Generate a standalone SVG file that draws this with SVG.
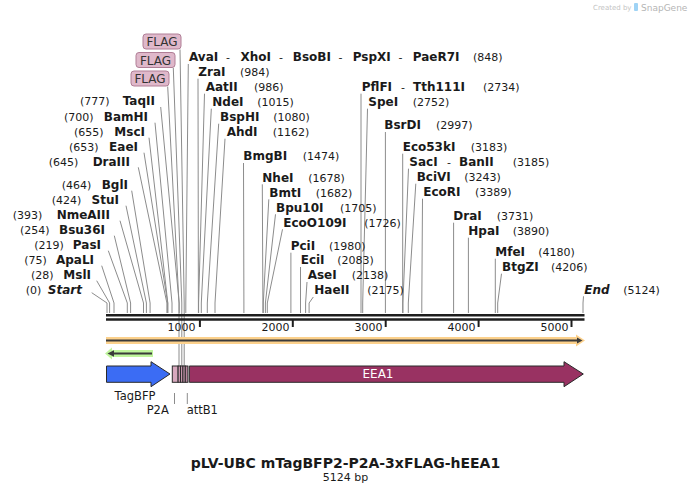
<svg xmlns="http://www.w3.org/2000/svg" width="691" height="493" viewBox="0 0 691 493">
<style>
text{font-family:"DejaVu Sans",Verdana,sans-serif;fill:#1a1a1a}
.n{font-size:12px;font-weight:bold}
.i{font-style:italic}
.p{font-size:11px}
.ld{fill:none;stroke:#8c8c8c;stroke-width:1}
.flag rect{fill:#dfb8ca;stroke:#b07e96;stroke-width:1}
.flag text{font-size:12px;text-anchor:middle;fill:#333}
.tk{font-size:11px;text-anchor:end}
.feat{stroke:#2a2a2a;stroke-width:1}
</style>
<rect width="691" height="493" fill="#fff"/>
<g id="watermark">
<text x="593" y="10" style="font-size:7px;fill:#c4c4c4">Created by</text>
<rect x="634" y="3" width="4" height="8" rx="1" fill="#9fd3f5"/>
<text x="641" y="10.5" style="font-size:9px;fill:#b5b5b5">SnapGene</text>
</g>
<g id="connectors">
<path class="ld" d="M160.7,107 L179.2,303 V313"/>
<path class="ld" d="M155,122.7 L172,303 V313"/>
<path class="ld" d="M149,137.7 L167.8,303 V313"/>
<path class="ld" d="M144,152.7 L167.7,303 V313"/>
<path class="ld" d="M138.3,167.3 L166.9,303 V313"/>
<path class="ld" d="M131.7,190.7 L150.1,303 V313"/>
<path class="ld" d="M126,205.7 L146.4,303 V313"/>
<path class="ld" d="M120,220.7 L143.5,303 V313"/>
<path class="ld" d="M114.3,235.7 L130.6,303 V313"/>
<path class="ld" d="M108.3,250.7 L127.3,303 V313"/>
<path class="ld" d="M101.7,265.7 L114,303 V313"/>
<path class="ld" d="M96.7,280.7 L109.6,303 V313"/>
<path class="ld" d="M91.7,292.7 L107,303 V313"/>
<path class="ld" d="M188.3,64 L185.8,303 V313"/>
<path class="ld" d="M198,78.7 L198.4,303 V313"/>
<path class="ld" d="M204.5,93.7 L198.6,303 V313"/>
<path class="ld" d="M211.3,108.7 L201.3,303 V313"/>
<path class="ld" d="M218.7,123.7 L207.3,303 V313"/>
<path class="ld" d="M225,138.7 L215,303 V313"/>
<path class="ld" d="M243.5,163 L243.9,303 V313"/>
<path class="ld" d="M262.3,184.3 L262.9,303 V313"/>
<path class="ld" d="M268.8,199.3 L263.3,303 V313"/>
<path class="ld" d="M275.5,214.3 L265.4,303 V313"/>
<path class="ld" d="M282.5,229.3 L267.3,303 V313"/>
<path class="ld" d="M290.9,252.7 L290.9,303 V313"/>
<path class="ld" d="M300.5,267 L300.5,303 V313"/>
<path class="ld" d="M307,282 L305.6,303 V313"/>
<path class="ld" d="M313.3,297 L309.1,303 V313"/>
<path class="ld" d="M361,93.7 L361,303 V313"/>
<path class="ld" d="M367.5,108.7 L362.7,303 V313"/>
<path class="ld" d="M385.4,132 L385.4,303 V313"/>
<path class="ld" d="M402.7,153.7 L402.7,303 V313"/>
<path class="ld" d="M408.5,168.7 L402.9,303 V313"/>
<path class="ld" d="M415.8,183.7 L408.3,303 V313"/>
<path class="ld" d="M422.5,198.7 L421.8,303 V313"/>
<path class="ld" d="M453.6,222.7 L453.6,303 V313"/>
<path class="ld" d="M468.4,237.7 L468.4,303 V313"/>
<path class="ld" d="M495.3,258.7 L495.3,303 V313"/>
<path class="ld" d="M501.5,273.7 L497.7,303 V313"/>
<path class="ld" d="M583.5,296.3 L583,303 V313"/>
<path class="ld" d="M180,49.5 L184.2,303 V366"/>
<path class="ld" d="M173.3,68 L181.8,303 V366"/>
<path class="ld" d="M167.7,86.5 L179,303 V366"/>
<path class="ld" d="M174.5,393 V404"/>
<path class="ld" d="M187.3,393 V404"/>
</g>
<g id="axis">
<line x1="106" y1="315.3" x2="584.5" y2="315.3" stroke="#1e1e1e" stroke-width="2.6"/>
<line x1="106" y1="319.5" x2="584.5" y2="319.5" stroke="#1e1e1e" stroke-width="2.4"/>
<path d="M199.9,319 V327 M292.8,319 V327 M385.7,319 V327 M478.6,319 V327 M571.5,319 V327" stroke="#1e1e1e" stroke-width="2"/>
<text class="tk" x="195.5" y="331">1000</text>
<text class="tk" x="289.5" y="331">2000</text>
<text class="tk" x="382.5" y="331">3000</text>
<text class="tk" x="475.5" y="331">4000</text>
<text class="tk" x="568.5" y="331">5000</text>
</g>
<g id="flag1" class="flag"><rect x="143" y="34" width="38" height="15" rx="3"/><text x="162" y="46">FLAG</text></g>
<g id="flag2" class="flag"><rect x="136" y="52.5" width="39" height="15" rx="3"/><text x="155.5" y="64.5">FLAG</text></g>
<g id="flag3" class="flag"><rect x="131" y="71" width="38" height="15" rx="3"/><text x="150" y="83">FLAG</text></g>
<g id="left-labels">
<g id="s-TaqII"><text class="n" x="155" y="105.3" text-anchor="end">TaqII</text><text class="p" x="80" y="105.3">(777)</text></g>
<g id="s-BamHI"><text class="n" x="148" y="121.3" text-anchor="end">BamHI</text><text class="p" x="64" y="121.3">(700)</text></g>
<g id="s-MscI"><text class="n" x="145" y="136.3" text-anchor="end">MscI</text><text class="p" x="74" y="136.3">(655)</text></g>
<g id="s-EaeI"><text class="n" x="138" y="151.3" text-anchor="end">EaeI</text><text class="p" x="69" y="151.3">(653)</text></g>
<g id="s-DraIII"><text class="n" x="130" y="166.3" text-anchor="end">DraIII</text><text class="p" x="48.7" y="166.3">(645)</text></g>
<g id="s-BglI"><text class="n" x="128" y="189.3" text-anchor="end">BglI</text><text class="p" x="61.7" y="189.3">(464)</text></g>
<g id="s-StuI"><text class="n" x="119" y="204.3" text-anchor="end">StuI</text><text class="p" x="51.7" y="204.3">(424)</text></g>
<g id="s-NmeAIII"><text class="n" x="110" y="219.3" text-anchor="end">NmeAIII</text><text class="p" x="12.7" y="219.3">(393)</text></g>
<g id="s-Bsu36I"><text class="n" x="105" y="234.3" text-anchor="end">Bsu36I</text><text class="p" x="20" y="234.3">(254)</text></g>
<g id="s-PasI"><text class="n" x="101" y="249.3" text-anchor="end">PasI</text><text class="p" x="34.3" y="249.3">(219)</text></g>
<g id="s-ApaLI"><text class="n" x="94" y="264.3" text-anchor="end">ApaLI</text><text class="p" x="24.3" y="264.3">(75)</text></g>
<g id="s-MslI"><text class="n" x="91" y="279.3" text-anchor="end">MslI</text><text class="p" x="31" y="279.3">(28)</text></g>
<g id="s-Start"><text class="n i" x="82" y="294.3" text-anchor="end">Start</text><text class="p" x="25.7" y="294.3">(0)</text></g>
</g>
<g id="right-labels">
<g id="s-AvaI"><text class="n" x="189" y="61.3">AvaI</text><text class="p" x="226" y="61.3">-</text><text class="n" x="240.5" y="61.3">XhoI</text><text class="p" x="279" y="61.3">-</text><text class="n" x="292.8" y="61.3">BsoBI</text><text class="p" x="338.5" y="61.3">-</text><text class="n" x="352.7" y="61.3">PspXI</text><text class="p" x="398.5" y="61.3">-</text><text class="n" x="412.8" y="61.3">PaeR7I</text><text class="p" x="473" y="61.3">(848)</text></g>
<g id="s-ZraI"><text class="n" x="198.3" y="76">ZraI</text><text class="p" x="240" y="76">(984)</text></g>
<g id="s-AatII"><text class="n" x="205.7" y="91">AatII</text><text class="p" x="254" y="91">(986)</text></g>
<g id="s-NdeI"><text class="n" x="212.3" y="106">NdeI</text><text class="p" x="257.3" y="106">(1015)</text></g>
<g id="s-BspHI"><text class="n" x="220" y="121">BspHI</text><text class="p" x="273.3" y="121">(1080)</text></g>
<g id="s-AhdI"><text class="n" x="226.7" y="136">AhdI</text><text class="p" x="272.7" y="136">(1162)</text></g>
<g id="s-BmgBI"><text class="n" x="243.3" y="160.3">BmgBI</text><text class="p" x="302.7" y="160.3">(1474)</text></g>
<g id="s-NheI"><text class="n" x="262.3" y="181.6">NheI</text><text class="p" x="308.3" y="181.6">(1678)</text></g>
<g id="s-BmtI"><text class="n" x="269.3" y="196.6">BmtI</text><text class="p" x="315.7" y="196.6">(1682)</text></g>
<g id="s-Bpu10I"><text class="n" x="276" y="211.6">Bpu10I</text><text class="p" x="340" y="211.6">(1705)</text></g>
<g id="s-EcoO109I"><text class="n" x="283.3" y="226.6">EcoO109I</text><text class="p" x="364.3" y="226.6">(1726)</text></g>
<g id="s-PciI"><text class="n" x="290.7" y="250">PciI</text><text class="p" x="329" y="250">(1980)</text></g>
<g id="s-EciI"><text class="n" x="300.7" y="264.3">EciI</text><text class="p" x="337.3" y="264.3">(2083)</text></g>
<g id="s-AseI"><text class="n" x="307.7" y="279.3">AseI</text><text class="p" x="351.7" y="279.3">(2138)</text></g>
<g id="s-HaeII"><text class="n" x="314.3" y="294.3">HaeII</text><text class="p" x="367.3" y="294.3">(2175)</text></g>
<g id="s-PflFI"><text class="n" x="361.7" y="91">PflFI</text><text class="p" x="401" y="91">-</text><text class="n" x="413" y="91">Tth111I</text><text class="p" x="483" y="91">(2734)</text></g>
<g id="s-SpeI"><text class="n" x="368.3" y="106">SpeI</text><text class="p" x="412.7" y="106">(2752)</text></g>
<g id="s-BsrDI"><text class="n" x="384.3" y="129.3">BsrDI</text><text class="p" x="436" y="129.3">(2997)</text></g>
<g id="s-Eco53kI"><text class="n" x="402.7" y="151">Eco53kI</text><text class="p" x="470.7" y="151">(3183)</text></g>
<g id="s-SacI"><text class="n" x="409.3" y="166">SacI</text><text class="p" x="447" y="166">-</text><text class="n" x="459" y="166">BanII</text><text class="p" x="512.7" y="166">(3185)</text></g>
<g id="s-BciVI"><text class="n" x="416.7" y="181">BciVI</text><text class="p" x="464.3" y="181">(3243)</text></g>
<g id="s-EcoRI"><text class="n" x="423.3" y="196">EcoRI</text><text class="p" x="475" y="196">(3389)</text></g>
<g id="s-DraI"><text class="n" x="453.3" y="220">DraI</text><text class="p" x="496.7" y="220">(3731)</text></g>
<g id="s-HpaI"><text class="n" x="468.3" y="235">HpaI</text><text class="p" x="512.7" y="235">(3890)</text></g>
<g id="s-MfeI"><text class="n" x="495.3" y="256">MfeI</text><text class="p" x="538.3" y="256">(4180)</text></g>
<g id="s-BtgZI"><text class="n" x="502" y="271">BtgZI</text><text class="p" x="551" y="271">(4206)</text></g>
<g id="s-End"><text class="n i" x="584.3" y="293.6">End</text><text class="p" x="623.3" y="293.6">(5124)</text></g>
</g>
<g id="orf-forward">
<rect x="106" y="337" width="472" height="7" fill="#fcd18c"/>
<polygon points="576,334.5 585,340.5 576,346.5" fill="#fcd18c"/>
<line x1="106" y1="340.5" x2="579" y2="340.5" stroke="#3a3a3a" stroke-width="1.8"/>
<polygon points="577,337.5 582.5,340.5 577,343.5" fill="#3a3a3a"/>
</g>
<g id="orf-reverse">
<rect x="111" y="350" width="42" height="7" fill="#bff59c"/>
<polygon points="105,353.5 112,347.5 112,359.5" fill="#bff59c"/>
<line x1="113" y1="353.5" x2="152" y2="353.5" stroke="#3a3a3a" stroke-width="1.8"/>
<polygon points="107.5,353.5 114,350.3 114,356.7" fill="#3a3a3a"/>
</g>
<g id="TagBFP">
<polygon class="feat" points="106.5,366 151,366 151,361.7 170,374 151,386.7 151,382.3 106.5,382.3" fill="#3b6cf4"/>
<text x="135" y="400" style="font-size:11.5px;text-anchor:middle">TagBFP</text>
</g>
<g id="P2A">
<rect class="feat" x="172.3" y="366" width="5.8" height="16.3" fill="#d7a8bd"/>
<text x="157.7" y="414" style="font-size:11.5px;text-anchor:middle">P2A</text>
</g>
<g id="FLAGx3">
<rect class="feat" x="178.1" y="366" width="2.4" height="16.3" fill="#c795ad"/>
<rect class="feat" x="180.5" y="366" width="2.4" height="16.3" fill="#c795ad"/>
<rect class="feat" x="182.9" y="366" width="2.4" height="16.3" fill="#c795ad"/>
</g>
<g id="attB1">
<rect class="feat" x="185.3" y="366" width="2.6" height="16.3" fill="#b9869f"/>
<text x="202.3" y="414" style="font-size:11.5px;text-anchor:middle">attB1</text>
</g>
<g id="EEA1">
<polygon class="feat" points="189.3,366 564,366 564,361.7 583.3,374 564,386.7 564,382.3 189.3,382.3" fill="#993262"/>
<text x="378" y="378.3" style="font-size:12px;text-anchor:middle;fill:#fff">EEA1</text>
</g>
<g id="title">
<text x="345.5" y="468" style="font-size:14px;font-weight:bold;text-anchor:middle">pLV-UBC mTagBFP2-P2A-3xFLAG-hEEA1</text>
<text x="345.5" y="481" style="font-size:11px;text-anchor:middle">5124 bp</text>
</g>
</svg>
